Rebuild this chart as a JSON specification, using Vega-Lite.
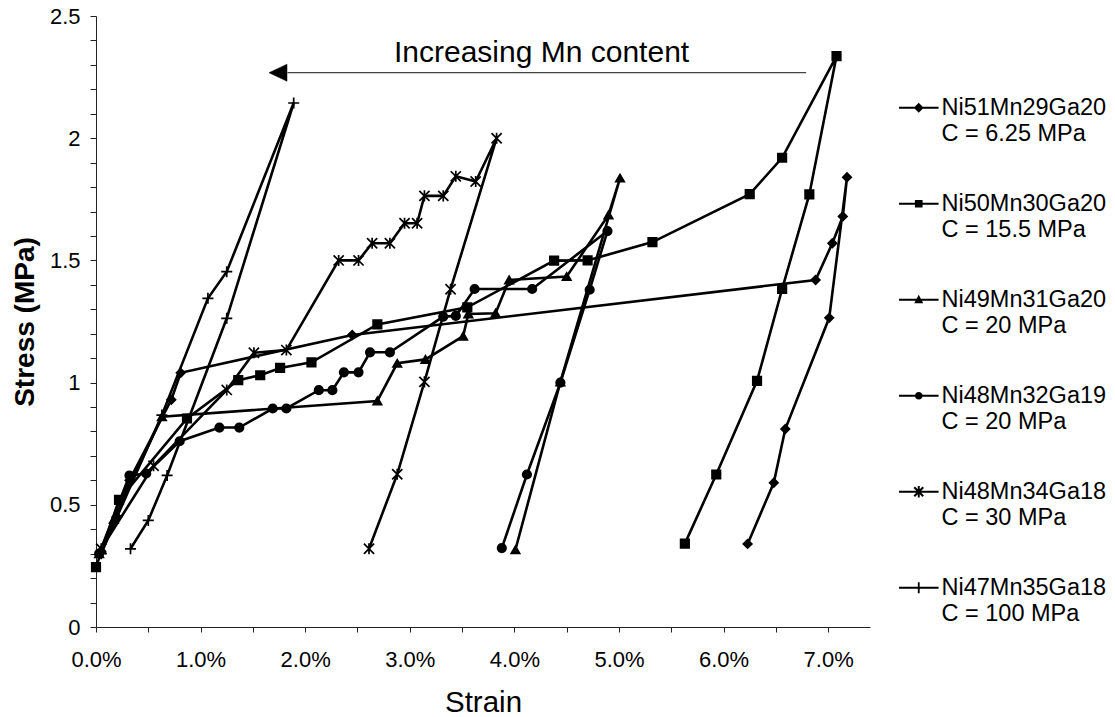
{
  "$schema": "https://vega.github.io/schema/vega-lite/v6.json",
  "width": 774,
  "height": 611,
  "autosize": "none",
  "padding": {"left": 96, "top": 16, "right": 245, "bottom": 90},
  "background": "white",
  "config": {
    "view": {"stroke": null},
    "font": "Liberation Sans",
    "axis": {
      "grid": false,
      "domainColor": "#222",
      "domainWidth": 1,
      "tickColor": "#222",
      "tickWidth": 1,
      "labelColor": "black",
      "labelFont": "Liberation Sans",
      "labelFontSize": 22,
      "titleColor": "black",
      "titleFont": "Liberation Sans",
      "labelOverlap": false,
      "labelFlush": false
    },
    "style": {"guide-label": {"lineHeight": 26}}
  },
  "datasets": {
    "curves": [
      {"series": "Ni51Mn29Ga20, C = 6.25 MPa", "i": 1, "strain": 0.05, "stress": 0.31},
      {"series": "Ni51Mn29Ga20, C = 6.25 MPa", "i": 2, "strain": 0.2, "stress": 0.45},
      {"series": "Ni51Mn29Ga20, C = 6.25 MPa", "i": 3, "strain": 0.32, "stress": 0.6},
      {"series": "Ni51Mn29Ga20, C = 6.25 MPa", "i": 4, "strain": 0.72, "stress": 0.93},
      {"series": "Ni51Mn29Ga20, C = 6.25 MPa", "i": 5, "strain": 0.81, "stress": 1.04},
      {"series": "Ni51Mn29Ga20, C = 6.25 MPa", "i": 6, "strain": 2.45, "stress": 1.195},
      {"series": "Ni51Mn29Ga20, C = 6.25 MPa", "i": 7, "strain": 6.88, "stress": 1.42},
      {"series": "Ni51Mn29Ga20, C = 6.25 MPa", "i": 8, "strain": 7.04, "stress": 1.57},
      {"series": "Ni51Mn29Ga20, C = 6.25 MPa", "i": 9, "strain": 7.14, "stress": 1.68},
      {"series": "Ni51Mn29Ga20, C = 6.25 MPa", "i": 10, "strain": 7.18, "stress": 1.84},
      {"series": "Ni51Mn29Ga20, C = 6.25 MPa", "i": 11, "strain": 7.01, "stress": 1.265},
      {"series": "Ni51Mn29Ga20, C = 6.25 MPa", "i": 12, "strain": 6.59, "stress": 0.81},
      {"series": "Ni51Mn29Ga20, C = 6.25 MPa", "i": 13, "strain": 6.48, "stress": 0.59},
      {"series": "Ni51Mn29Ga20, C = 6.25 MPa", "i": 14, "strain": 6.23, "stress": 0.34},

      {"series": "Ni50Mn30Ga20, C = 15.5 MPa", "i": 1, "strain": 0.0, "stress": 0.245},
      {"series": "Ni50Mn30Ga20, C = 15.5 MPa", "i": 2, "strain": 0.22, "stress": 0.52},
      {"series": "Ni50Mn30Ga20, C = 15.5 MPa", "i": 3, "strain": 0.87, "stress": 0.853},
      {"series": "Ni50Mn30Ga20, C = 15.5 MPa", "i": 4, "strain": 1.36, "stress": 1.01},
      {"series": "Ni50Mn30Ga20, C = 15.5 MPa", "i": 5, "strain": 1.57, "stress": 1.03},
      {"series": "Ni50Mn30Ga20, C = 15.5 MPa", "i": 6, "strain": 1.76, "stress": 1.06},
      {"series": "Ni50Mn30Ga20, C = 15.5 MPa", "i": 7, "strain": 2.06, "stress": 1.083},
      {"series": "Ni50Mn30Ga20, C = 15.5 MPa", "i": 8, "strain": 2.69, "stress": 1.238},
      {"series": "Ni50Mn30Ga20, C = 15.5 MPa", "i": 9, "strain": 3.55, "stress": 1.308},
      {"series": "Ni50Mn30Ga20, C = 15.5 MPa", "i": 10, "strain": 4.38, "stress": 1.499},
      {"series": "Ni50Mn30Ga20, C = 15.5 MPa", "i": 11, "strain": 4.7, "stress": 1.5},
      {"series": "Ni50Mn30Ga20, C = 15.5 MPa", "i": 12, "strain": 5.32, "stress": 1.575},
      {"series": "Ni50Mn30Ga20, C = 15.5 MPa", "i": 13, "strain": 6.25, "stress": 1.771},
      {"series": "Ni50Mn30Ga20, C = 15.5 MPa", "i": 14, "strain": 6.56, "stress": 1.92},
      {"series": "Ni50Mn30Ga20, C = 15.5 MPa", "i": 15, "strain": 7.08, "stress": 2.336},
      {"series": "Ni50Mn30Ga20, C = 15.5 MPa", "i": 16, "strain": 6.82, "stress": 1.77},
      {"series": "Ni50Mn30Ga20, C = 15.5 MPa", "i": 17, "strain": 6.56, "stress": 1.383},
      {"series": "Ni50Mn30Ga20, C = 15.5 MPa", "i": 18, "strain": 6.32, "stress": 1.007},
      {"series": "Ni50Mn30Ga20, C = 15.5 MPa", "i": 19, "strain": 5.93, "stress": 0.624},
      {"series": "Ni50Mn30Ga20, C = 15.5 MPa", "i": 20, "strain": 5.63, "stress": 0.341},

      {"series": "Ni49Mn31Ga20, C = 20 MPa", "i": 1, "strain": 0.03, "stress": 0.3},
      {"series": "Ni49Mn31Ga20, C = 20 MPa", "i": 2, "strain": 0.17, "stress": 0.44},
      {"series": "Ni49Mn31Ga20, C = 20 MPa", "i": 3, "strain": 0.63, "stress": 0.86},
      {"series": "Ni49Mn31Ga20, C = 20 MPa", "i": 4, "strain": 2.69, "stress": 0.925},
      {"series": "Ni49Mn31Ga20, C = 20 MPa", "i": 5, "strain": 2.88, "stress": 1.079},
      {"series": "Ni49Mn31Ga20, C = 20 MPa", "i": 6, "strain": 3.15, "stress": 1.095},
      {"series": "Ni49Mn31Ga20, C = 20 MPa", "i": 7, "strain": 3.51, "stress": 1.19},
      {"series": "Ni49Mn31Ga20, C = 20 MPa", "i": 8, "strain": 3.56, "stress": 1.281},
      {"series": "Ni49Mn31Ga20, C = 20 MPa", "i": 9, "strain": 3.82, "stress": 1.284},
      {"series": "Ni49Mn31Ga20, C = 20 MPa", "i": 10, "strain": 3.95, "stress": 1.42},
      {"series": "Ni49Mn31Ga20, C = 20 MPa", "i": 11, "strain": 4.5, "stress": 1.434},
      {"series": "Ni49Mn31Ga20, C = 20 MPa", "i": 12, "strain": 4.9, "stress": 1.686},
      {"series": "Ni49Mn31Ga20, C = 20 MPa", "i": 13, "strain": 5.01, "stress": 1.837},
      {"series": "Ni49Mn31Ga20, C = 20 MPa", "i": 14, "strain": 4.44, "stress": 1.003},
      {"series": "Ni49Mn31Ga20, C = 20 MPa", "i": 15, "strain": 4.01, "stress": 0.316},

      {"series": "Ni48Mn32Ga19, C = 20 MPa", "i": 1, "strain": 0.03, "stress": 0.3},
      {"series": "Ni48Mn32Ga19, C = 20 MPa", "i": 2, "strain": 0.32, "stress": 0.62},
      {"series": "Ni48Mn32Ga19, C = 20 MPa", "i": 3, "strain": 0.48, "stress": 0.628},
      {"series": "Ni48Mn32Ga19, C = 20 MPa", "i": 4, "strain": 0.8, "stress": 0.76},
      {"series": "Ni48Mn32Ga19, C = 20 MPa", "i": 5, "strain": 1.18, "stress": 0.816},
      {"series": "Ni48Mn32Ga19, C = 20 MPa", "i": 6, "strain": 1.37, "stress": 0.816},
      {"series": "Ni48Mn32Ga19, C = 20 MPa", "i": 7, "strain": 1.69, "stress": 0.894},
      {"series": "Ni48Mn32Ga19, C = 20 MPa", "i": 8, "strain": 1.82, "stress": 0.894},
      {"series": "Ni48Mn32Ga19, C = 20 MPa", "i": 9, "strain": 2.13, "stress": 0.969},
      {"series": "Ni48Mn32Ga19, C = 20 MPa", "i": 10, "strain": 2.26, "stress": 0.969},
      {"series": "Ni48Mn32Ga19, C = 20 MPa", "i": 11, "strain": 2.37, "stress": 1.042},
      {"series": "Ni48Mn32Ga19, C = 20 MPa", "i": 12, "strain": 2.51, "stress": 1.042},
      {"series": "Ni48Mn32Ga19, C = 20 MPa", "i": 13, "strain": 2.62, "stress": 1.124},
      {"series": "Ni48Mn32Ga19, C = 20 MPa", "i": 14, "strain": 2.81, "stress": 1.124},
      {"series": "Ni48Mn32Ga19, C = 20 MPa", "i": 15, "strain": 3.32, "stress": 1.27},
      {"series": "Ni48Mn32Ga19, C = 20 MPa", "i": 16, "strain": 3.44, "stress": 1.273},
      {"series": "Ni48Mn32Ga19, C = 20 MPa", "i": 17, "strain": 3.62, "stress": 1.383},
      {"series": "Ni48Mn32Ga19, C = 20 MPa", "i": 18, "strain": 4.17, "stress": 1.383},
      {"series": "Ni48Mn32Ga19, C = 20 MPa", "i": 19, "strain": 4.89, "stress": 1.62},
      {"series": "Ni48Mn32Ga19, C = 20 MPa", "i": 20, "strain": 4.72, "stress": 1.38},
      {"series": "Ni48Mn32Ga19, C = 20 MPa", "i": 21, "strain": 4.44, "stress": 1.0},
      {"series": "Ni48Mn32Ga19, C = 20 MPa", "i": 22, "strain": 4.12, "stress": 0.624},
      {"series": "Ni48Mn32Ga19, C = 20 MPa", "i": 23, "strain": 3.88, "stress": 0.323},

      {"series": "Ni48Mn34Ga18, C = 30 MPa", "i": 1, "strain": 0.05, "stress": 0.32},
      {"series": "Ni48Mn34Ga18, C = 30 MPa", "i": 2, "strain": 0.55, "stress": 0.66},
      {"series": "Ni48Mn34Ga18, C = 30 MPa", "i": 3, "strain": 1.25, "stress": 0.97},
      {"series": "Ni48Mn34Ga18, C = 30 MPa", "i": 4, "strain": 1.51, "stress": 1.122},
      {"series": "Ni48Mn34Ga18, C = 30 MPa", "i": 5, "strain": 1.82, "stress": 1.133},
      {"series": "Ni48Mn34Ga18, C = 30 MPa", "i": 6, "strain": 2.32, "stress": 1.5},
      {"series": "Ni48Mn34Ga18, C = 30 MPa", "i": 7, "strain": 2.51, "stress": 1.5},
      {"series": "Ni48Mn34Ga18, C = 30 MPa", "i": 8, "strain": 2.64, "stress": 1.57},
      {"series": "Ni48Mn34Ga18, C = 30 MPa", "i": 9, "strain": 2.81, "stress": 1.57},
      {"series": "Ni48Mn34Ga18, C = 30 MPa", "i": 10, "strain": 2.95, "stress": 1.652},
      {"series": "Ni48Mn34Ga18, C = 30 MPa", "i": 11, "strain": 3.07, "stress": 1.652},
      {"series": "Ni48Mn34Ga18, C = 30 MPa", "i": 12, "strain": 3.14, "stress": 1.764},
      {"series": "Ni48Mn34Ga18, C = 30 MPa", "i": 13, "strain": 3.32, "stress": 1.764},
      {"series": "Ni48Mn34Ga18, C = 30 MPa", "i": 14, "strain": 3.44, "stress": 1.844},
      {"series": "Ni48Mn34Ga18, C = 30 MPa", "i": 15, "strain": 3.63, "stress": 1.823},
      {"series": "Ni48Mn34Ga18, C = 30 MPa", "i": 16, "strain": 3.83, "stress": 2.0},
      {"series": "Ni48Mn34Ga18, C = 30 MPa", "i": 17, "strain": 3.39, "stress": 1.382},
      {"series": "Ni48Mn34Ga18, C = 30 MPa", "i": 18, "strain": 3.14, "stress": 1.003},
      {"series": "Ni48Mn34Ga18, C = 30 MPa", "i": 19, "strain": 2.88, "stress": 0.625},
      {"series": "Ni48Mn34Ga18, C = 30 MPa", "i": 20, "strain": 2.61, "stress": 0.32},

      {"series": "Ni47Mn35Ga18, C = 100 MPa", "i": 1, "strain": 0.05, "stress": 0.3},
      {"series": "Ni47Mn35Ga18, C = 100 MPa", "i": 2, "strain": 0.2, "stress": 0.45},
      {"series": "Ni47Mn35Ga18, C = 100 MPa", "i": 3, "strain": 0.63, "stress": 0.867},
      {"series": "Ni47Mn35Ga18, C = 100 MPa", "i": 4, "strain": 1.07, "stress": 1.345},
      {"series": "Ni47Mn35Ga18, C = 100 MPa", "i": 5, "strain": 1.25, "stress": 1.454},
      {"series": "Ni47Mn35Ga18, C = 100 MPa", "i": 6, "strain": 1.89, "stress": 2.144},
      {"series": "Ni47Mn35Ga18, C = 100 MPa", "i": 7, "strain": 1.25, "stress": 1.263},
      {"series": "Ni47Mn35Ga18, C = 100 MPa", "i": 8, "strain": 0.68, "stress": 0.62},
      {"series": "Ni47Mn35Ga18, C = 100 MPa", "i": 9, "strain": 0.5, "stress": 0.436},
      {"series": "Ni47Mn35Ga18, C = 100 MPa", "i": 10, "strain": 0.33, "stress": 0.32}
    ],
    "note": [
      {"label": "Increasing Mn content", "textStrain": 4.26, "textStress": 2.31, "fromStrain": 6.79, "toStrain": 1.83, "headStrain": 1.74, "arrowStress": 2.268}
    ]
  },
  "layer": [
    {
      "data": {"name": "curves"},
      "mark": {"type": "line", "color": "black", "strokeWidth": 2.6, "clip": false},
      "encoding": {
        "x": {
          "field": "strain", "type": "quantitative",
          "scale": {"domain": [0, 7.4], "nice": false, "zero": false},
          "axis": {
            "title": "Strain",
            "titleFontSize": 29.5,
            "titleFontWeight": "normal",
            "titlePadding": 18,
            "values": [0, 0.5, 1, 1.5, 2, 2.5, 3, 3.5, 4, 4.5, 5, 5.5, 6, 6.5, 7],
            "labelExpr": "datum.value % 1 == 0 ? format(datum.value, '.1f') + '%' : ''",
            "labelOverlap": false,
            "labelFlush": false,
            "tickSize": 5,
            "labelPadding": 17
          }
        },
        "y": {
          "field": "stress", "type": "quantitative",
          "scale": {"domain": [0, 2.5], "nice": false},
          "axis": {
            "orient": "left",
            "title": "Stress (MPa)",
            "titleFontSize": 28,
            "titleFontWeight": "bold",
            "titlePadding": 10,
            "values": [0, 0.5, 1, 1.5, 2, 2.5],
            "labelExpr": "'' + datum.value",
            "labelOverlap": false,
            "labelFlush": false,
            "tickSize": 6,
            "labelPadding": 10
          }
        },
        "detail": {"field": "series", "type": "nominal"},
        "order": {"field": "i", "type": "quantitative"}
      }
    },
    {
      "data": {"name": "curves"},
      "mark": {"type": "point", "filled": true, "fill": "black", "stroke": "black", "strokeWidth": 1.7, "size": 72, "opacity": 1, "clip": false},
      "encoding": {
        "x": {"field": "strain", "type": "quantitative"},
        "y": {
          "field": "stress", "type": "quantitative",
          "axis": {
            "orient": "left",
            "title": null,
            "labels": false,
            "domain": false,
            "grid": false,
            "values": [0.1, 0.2, 0.3, 0.4, 0.6, 0.7, 0.8, 0.9, 1.1, 1.2, 1.3, 1.4, 1.6, 1.7, 1.8, 1.9, 2.1, 2.2, 2.3, 2.4],
            "tickSize": 6
          }
        },
        "shape": {
          "field": "series", "type": "nominal",
          "scale": {
            "domain": ["Ni51Mn29Ga20, C = 6.25 MPa", "Ni50Mn30Ga20, C = 15.5 MPa", "Ni49Mn31Ga20, C = 20 MPa", "Ni48Mn32Ga19, C = 20 MPa", "Ni48Mn34Ga18, C = 30 MPa", "Ni47Mn35Ga18, C = 100 MPa"],
            "range": ["diamond", "square", "triangle-up", "circle", "M-1.2,-1.2L1.2,1.2M-1.2,1.2L1.2,-1.2M0,-1.3L0,1.3", "M-1.3,0L1.3,0M0,-1.3L0,1.3"]
          },
          "legend": null
        }
      }
    },
    {
      "data": {"name": "curves"},
      "mark": {"type": "point", "filled": true, "fill": "black", "opacity": 0},
      "encoding": {
        "x": {"field": "strain", "type": "quantitative"},
        "y": {"field": "stress", "type": "quantitative", "axis": null},
        "shape": {
          "field": "series", "type": "nominal",
          "scale": {
            "domain": ["Ni51Mn29Ga20, C = 6.25 MPa", "Ni50Mn30Ga20, C = 15.5 MPa", "Ni49Mn31Ga20, C = 20 MPa", "Ni48Mn32Ga19, C = 20 MPa", "Ni48Mn34Ga18, C = 30 MPa", "Ni47Mn35Ga18, C = 100 MPa"],
            "range": [
              "M-4.4,-0.22L4.4,-0.22L4.4,0.22L-4.4,0.22Z M0,-1.1L1.1,0L0,1.1L-1.1,0Z",
              "M-4.4,-0.22L4.4,-0.22L4.4,0.22L-4.4,0.22Z M-0.85,-0.85L0.85,-0.85L0.85,0.85L-0.85,0.85Z",
              "M-4.4,-0.22L4.4,-0.22L4.4,0.22L-4.4,0.22Z M0,-1.1L1.0,0.75L-1.0,0.75Z",
              "M-4.4,-0.22L4.4,-0.22L4.4,0.22L-4.4,0.22Z M-0.85,0A0.85,0.85,0,1,1,0.85,0A0.85,0.85,0,1,1,-0.85,0Z",
              "M-4.4,-0.22L4.4,-0.22L4.4,0.22L-4.4,0.22Z M-0.22,-1.3L0.22,-1.3L0.22,1.3L-0.22,1.3Z M-0.84,-1.16L1.16,0.84L0.84,1.16L-1.16,-0.84Z M-1.16,0.84L0.84,-1.16L1.16,-0.84L-0.84,1.16Z",
              "M-4.4,-0.22L4.4,-0.22L4.4,0.22L-4.4,0.22Z M-0.2,-1.2L0.2,-1.2L0.2,1.2L-0.2,1.2Z"
            ]
          },
          "legend": {
            "title": null,
            "orient": "none",
            "legendX": 811,
            "legendY": 80,
            "padding": 0,
            "labelExpr": "split(datum.label, ', ')",
            "labelFont": "Liberation Sans",
            "labelFontSize": 23.5,
            "labelColor": "black",
            "labelLimit": 400,
            "labelOffset": 11,
            "symbolSize": 81,
            "symbolStrokeWidth": 0,
            "symbolFillColor": "black",
            "symbolOpacity": 1,
            "rowPadding": 45
          }
        }
      }
    },
    {
      "data": {"name": "note"},
      "mark": {"type": "rule", "color": "#444", "strokeWidth": 1.2},
      "encoding": {
        "x": {"field": "fromStrain", "type": "quantitative"},
        "x2": {"field": "toStrain"},
        "y": {"field": "arrowStress", "type": "quantitative", "axis": null}
      }
    },
    {
      "data": {"name": "note"},
      "mark": {"type": "point", "shape": "M-1,0L1,-0.95L1,0.95Z", "size": 324, "filled": true, "fill": "black", "stroke": "black", "strokeWidth": 0.5, "opacity": 1},
      "encoding": {
        "x": {"field": "headStrain", "type": "quantitative"},
        "y": {"field": "arrowStress", "type": "quantitative", "axis": null}
      }
    },
    {
      "data": {"name": "note"},
      "mark": {"type": "text", "font": "Liberation Sans", "fontSize": 30, "color": "black", "align": "center", "baseline": "alphabetic"},
      "encoding": {
        "x": {"field": "textStrain", "type": "quantitative"},
        "y": {"field": "textStress", "type": "quantitative", "axis": null},
        "text": {"field": "label"}
      }
    }
  ],
  "resolve": {"scale": {"shape": "independent"}, "axis": {"y": "independent"}}
}
